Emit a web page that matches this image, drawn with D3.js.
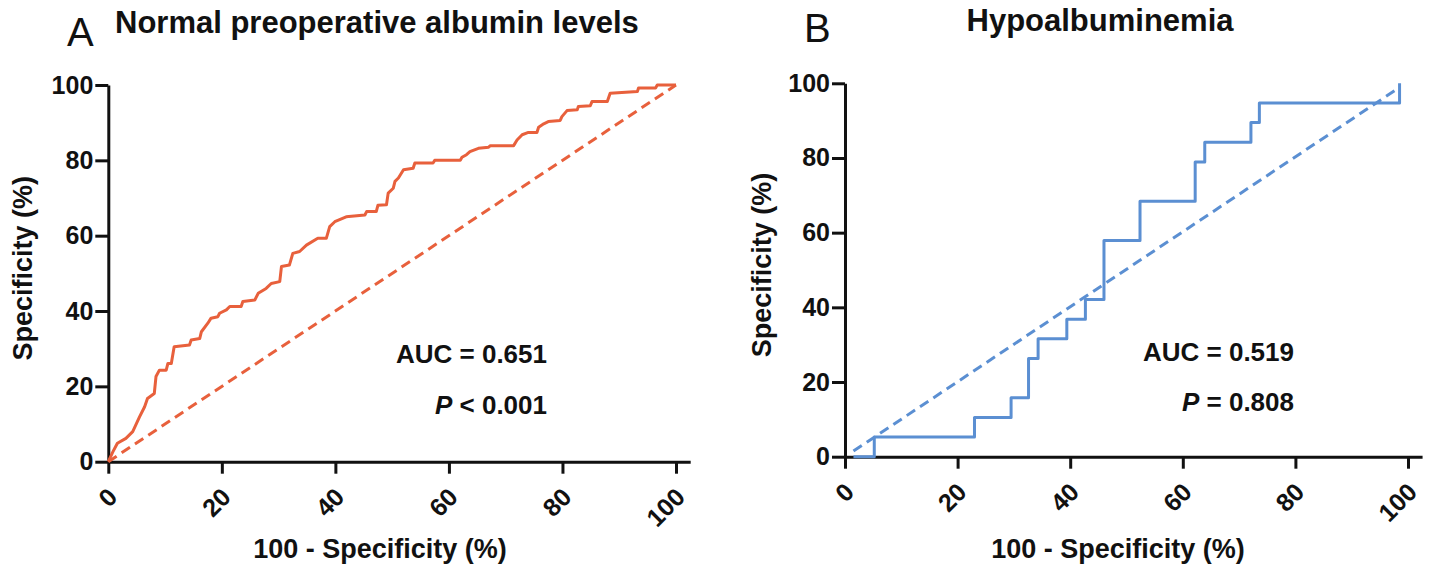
<!DOCTYPE html>
<html>
<head>
<meta charset="utf-8">
<script src="https://cdn.jsdelivr.net/npm/d3@7"></script>
<style>
  body { margin: 0; background: #fff; }
  svg { display: block; font-family: "Liberation Sans", Arial, sans-serif; }
</style>
</head>
<body>
<div id="chart"></div>
<script>
// panel A: normal preoperative albumin (100 - specificity, sensitivity)
const rocAx = [0, 0.8, 1.6, 3.1, 4.3, 5.5, 6.4, 6.9, 8.1, 8.4, 9.0, 10.2, 10.5, 11.1, 11.6, 14.3, 14.6, 16.1, 16.4, 17.5,
  18.1, 19.3, 19.6, 20.8, 21.4, 23.4, 23.7, 25.8, 26.4, 27.8, 28.7, 30.2, 30.5, 31.9, 32.5, 33.7, 34.9, 36.9, 38.4, 39.0,
  39.9, 41.9, 45.2, 45.5, 47.2, 47.5, 49.0, 49.3, 50.2, 50.5, 51.1, 52.0, 53.7, 54.0, 57.2, 57.5, 62.0, 62.3, 63.1, 63.7,
  65.2, 67.0, 67.3, 71.4, 72.0, 72.9, 74.0, 75.5, 75.8, 76.7, 77.5, 79.6, 79.9, 80.8, 82.6, 82.8, 84.9, 85.2, 87.9, 88.4,
  93.2, 93.4, 96.4, 96.7, 100];
const rocAy = [0, 2.6, 4.9, 6.2, 8.0, 11.9, 14.6, 16.8, 18.1, 22.6, 24.3, 24.3, 26.1, 26.1, 30.5, 31.0, 32.3, 32.7, 34.5, 36.7,
  38.1, 38.5, 39.4, 40.3, 41.2, 41.2, 42.5, 42.9, 44.7, 46.0, 47.3, 47.8, 51.8, 52.2, 55.3, 55.8, 57.5, 59.3, 59.3, 62.4,
  63.7, 65.0, 65.5, 66.4, 66.4, 68.1, 68.2, 71.3, 72.6, 74.4, 75.3, 77.5, 77.9, 79.3, 79.3, 80.0, 80.0, 80.8, 81.5, 82.3,
  83.2, 83.5, 83.9, 83.9, 85.4, 86.8, 87.4, 87.4, 88.8, 89.7, 90.3, 90.6, 91.6, 93.2, 93.4, 94.3, 94.5, 95.6, 95.6, 97.8,
  98.3, 99.2, 99.2, 100, 100];
const refAx = [0, 100];
const refAy = [0, 100];

// panel B: hypoalbuminemia
const rocBx = [1.5, 5.2, 5.2, 23.0, 23.0, 29.5, 29.5, 32.6, 32.6, 34.3, 34.3, 39.4, 39.4, 42.7, 42.7, 46.0, 46.0,
  52.4, 52.4, 62.2, 62.2, 63.9, 63.9, 72.1, 72.1, 73.6, 73.6, 98.5, 98.5];
const rocBy = [0, 0, 5.26, 5.26, 10.5, 10.5, 15.8, 15.8, 26.3, 26.3, 31.6, 31.6, 36.8, 36.8, 42.1, 42.1, 57.9,
  57.9, 68.4, 68.4, 78.9, 78.9, 84.2, 84.2, 89.5, 89.5, 94.7, 94.7, 100];
const refBx = [1.5, 98.2];
const refBy = [1.5, 98.6];

const xTicks = [0, 20, 40, 60, 80, 100];
const yTicks = [0, 20, 40, 60, 80, 100];

const panels = [
  {
    letter: 'A', title: 'Normal preoperative albumin levels',
    rx: rocAx, ry: rocAy, dx: refAx, dy: refAy,
    color: '#E8603C',
    auc: 'AUC = 0.651', pOp: ' < 0.001',
    x0: 108.3, x100: 676, y0: 461.7, y100: 85,
    letterPos: [67, 46], titlePos: [115, 33, 'start'],
    yTitleX: 32, xTitleX: 380, statX: 547, aucY: 363, pY: 414
  },
  {
    letter: 'B', title: 'Hypoalbuminemia',
    rx: rocBx, ry: rocBy, dx: refBx, dy: refBy,
    color: '#5B8FD2',
    auc: 'AUC = 0.519', pOp: ' = 0.808',
    x0: 845, x100: 1408, y0: 456.7, y100: 83.3,
    letterPos: [804, 42], titlePos: [1100, 31, 'middle'],
    yTitleX: 771, xTitleX: 1118, statX: 1294, aucY: 361, pY: 411
  }
];

const width = 1429;
const height = 583;
const ink = '#111';

const svg = d3.select('#chart')
  .append('svg')
    .attr('width', width)
    .attr('height', height)
    .attr('viewBox', [0, 0, width, height]);

svg.append('rect')
  .attr('width', width)
  .attr('height', height)
  .attr('fill', '#fff');

panels.forEach(drawPanel);

function drawPanel(p) {
  const g = svg.append('g');

  // axis runs a little past 100 like the original
  const unit = (p.x100 - p.x0) / 100;
  const x = d3.scaleLinear()
    .domain([0, 102.5])
    .range([p.x0, p.x0 + 102.5 * unit]);
  const y = d3.scaleLinear()
    .domain([0, 100])
    .range([p.y0, p.y100]);

  // AXES
  const xAxis = g.append('g')
    .attr('transform', `translate(0,${p.y0})`)
    .call(d3.axisBottom(x).tickValues(xTicks).tickSize(12).tickSizeOuter(0));
  xAxis.selectAll('text')
    .attr('y', null).attr('dy', null)
    .attr('text-anchor', 'end')
    .attr('transform', 'translate(10,37) rotate(-45)');

  const yAxis = g.append('g')
    .attr('transform', `translate(${p.x0},0)`)
    .call(d3.axisLeft(y).tickValues(yTicks).tickSize(13).tickPadding(2).tickSizeOuter(0));

  g.selectAll('.domain, .tick line')
    .attr('stroke', ink)
    .attr('stroke-width', 3);
  g.selectAll('.tick text')
    .attr('fill', ink)
    .style('font-size', '25px')
    .style('font-weight', 'bold');

  // reference diagonal
  const line = d3.line()
    .x(d => x(d[0]))
    .y(d => y(d[1]));

  g.append('path')
    .datum(d3.zip(p.dx, p.dy))
    .attr('fill', 'none')
    .attr('stroke', p.color)
    .attr('stroke-width', 3)
    .attr('stroke-dasharray', '10 6')
    .attr('d', line);

  // ROC curve
  g.append('path')
    .datum(d3.zip(p.rx, p.ry))
    .attr('fill', 'none')
    .attr('stroke', p.color)
    .attr('stroke-width', 3)
    .attr('stroke-linejoin', 'round')
    .attr('d', line);

  // TEXTS
  g.append('text')
    .attr('x', p.letterPos[0])
    .attr('y', p.letterPos[1])
    .attr('fill', ink)
    .style('font-size', '40px')
    .text(p.letter);

  g.append('text')
    .attr('x', p.titlePos[0])
    .attr('y', p.titlePos[1])
    .attr('text-anchor', p.titlePos[2])
    .attr('fill', ink)
    .style('font-size', '31px')
    .style('font-weight', 'bold')
    .text(p.title);

  g.append('text')
    .attr('transform', `translate(${p.yTitleX},${(p.y0 + p.y100) / 2 - 5}) rotate(-90)`)
    .attr('text-anchor', 'middle')
    .attr('fill', ink)
    .style('font-size', '27px')
    .style('font-weight', 'bold')
    .text('Specificity (%)');

  g.append('text')
    .attr('x', p.xTitleX)
    .attr('y', 558)
    .attr('text-anchor', 'middle')
    .attr('fill', ink)
    .style('font-size', '27px')
    .style('font-weight', 'bold')
    .text('100 - Specificity (%)');

  g.append('text')
    .attr('x', p.statX)
    .attr('y', p.aucY)
    .attr('text-anchor', 'end')
    .attr('fill', ink)
    .style('font-size', '26px')
    .style('font-weight', 'bold')
    .text(p.auc);

  const pt = g.append('text')
    .attr('x', p.statX)
    .attr('y', p.pY)
    .attr('text-anchor', 'end')
    .attr('fill', ink)
    .style('font-size', '26px')
    .style('font-weight', 'bold');
  pt.append('tspan').style('font-style', 'italic').text('P');
  pt.append('tspan').text(p.pOp);
}
</script>
</body>
</html>
